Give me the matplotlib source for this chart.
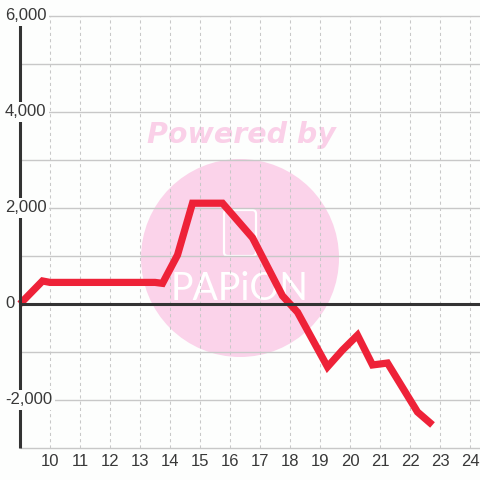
import matplotlib
matplotlib.use("Agg")
import matplotlib.pyplot as plt
from matplotlib.patches import Circle, FancyBboxPatch
from matplotlib.transforms import blended_transform_factory

# data
hours = [9, 9.75, 10, 13.5, 13.75, 14.25, 14.75, 15.75, 16.75, 17.75,
         18.25, 19.25, 19.75, 20.25, 20.75, 21.25, 22.25, 22.75]
values = [0, 480, 450, 450, 430, 1020, 2100, 2100, 1380, 170,
          -170, -1310, -960, -650, -1270, -1230, -2250, -2520]
x_ticks = list(range(10, 25))
y_ticks = [-3000, -2000, -1000, 0, 1000, 2000, 3000, 4000, 5000, 6000]
y_labels = {-2000: "-2,000", 0: "0", 2000: "2,000", 4000: "4,000", 6000: "6,000"}

bg = "#fdfefd"
grid_c = "#c8c8c8"
txt_c = "#383838"
plt.rcParams["font.family"] = ["Liberation Sans", "DejaVu Sans"]

fig = plt.figure(figsize=(4.8, 4.8), dpi=100, facecolor=bg)
ax = fig.add_axes([0, 0, 1, 1])
ax.set_facecolor(bg)
# 30 px per hour, 48 px per 1000
ax.set_xlim(9 - 20 / 30, 9 + 460 / 30)
ax.set_ylim(-3000 - 32 / 48 * 1000, 6000 + 16 / 48 * 1000)
ax.axis("off")

# watermark (behind the grid)
ft = fig.transFigure
ax.add_patch(Circle((240 / 480, 1 - 258 / 480), 99 / 480, transform=ft,
                    facecolor="#fbd3ea", edgecolor="none", zorder=0.2))
ax.add_patch(FancyBboxPatch((224 / 480, 1 - 256 / 480), 32 / 480, 46 / 480,
                            boxstyle="round,pad=0,rounding_size=0.008",
                            transform=ft, facecolor="none",
                            edgecolor="white", linewidth=1.6, zorder=0.5))
ax.text(241 / 480, 1 - 135 / 480, "Powered by", transform=ft, color="#fad0e8",
        fontsize=20.5, fontweight="bold", fontstyle="italic", family="DejaVu Sans",
        ha="center", va="center", zorder=0.5)
ax.text(240 / 480, 1 - 289 / 480, "PAPiON", transform=ft, color="white",
        fontsize=27, family="Lato", ha="center", va="center", zorder=0.5)

# grid
ax.hlines(y_ticks, 9, ax.get_xlim()[1], color=grid_c, linewidth=1, zorder=1)
ax.vlines(x_ticks, -3000, 6000, color=grid_c, linewidth=0.75,
          linestyles=(0, (3, 3)), zorder=1)

# data line
ax.plot(hours, values, color="#ee2238", linewidth=5.2, solid_joinstyle="miter",
        solid_capstyle="butt", zorder=3)

# zero line and left axis
ax.axhline(0, xmin=20 / 480, color="#333333", linewidth=2.2, zorder=4)
ax.plot([9, 9], [-3000, 5830], color="#333333", linewidth=2.2, zorder=4,
        solid_capstyle="butt")

# tick labels
tr = blended_transform_factory(ax.transAxes, ax.transData)
for v, lab in y_labels.items():
    ax.text(5 / 480, v, lab, transform=tr, ha="left", va="center", fontsize=12,
            color=txt_c, zorder=5,
            bbox=dict(boxstyle="square,pad=0.15", fc=bg, ec="none"))
for h in x_ticks:
    ax.text(h, -3000 - 14 / 48 * 1000, str(h), ha="center", va="center",
            fontsize=12, color=txt_c, zorder=5)

fig.savefig("out.png", dpi=100, facecolor=bg)
